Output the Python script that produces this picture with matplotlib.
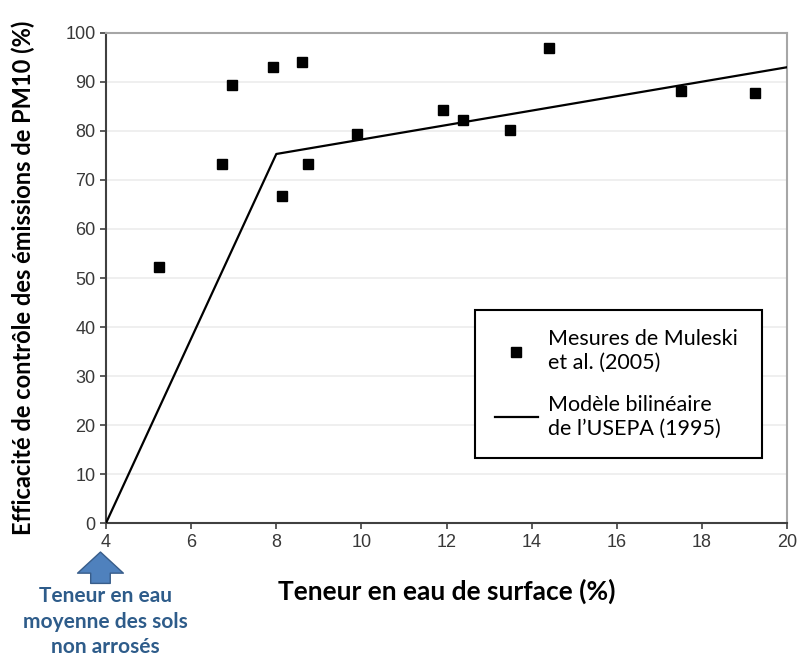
import matplotlib
matplotlib.use("Agg")
import matplotlib.pyplot as plt

# Mesures de Muleski et al. (2005)
teneur_mes = [5.25, 6.73, 6.96, 7.92, 8.14, 8.60, 8.75, 9.90, 11.92, 12.39, 13.50, 14.41, 17.51, 19.25]
effic_mes = [52.3, 73.3, 89.4, 93.1, 66.7, 94.1, 73.3, 79.4, 84.3, 82.2, 80.2, 96.9, 88.2, 87.8]

# Modèle bilinéaire de l'USEPA (1995)
teneur_mod = [4, 8, 20]
effic_mod = [0, 75.3, 93.0]

xticks = [4, 6, 8, 10, 12, 14, 16, 18, 20]
yticks = [0, 10, 20, 30, 40, 50, 60, 70, 80, 90, 100]

fig = plt.figure(figsize=(8, 6.58), dpi=100)
ax = fig.add_axes([0.1325, 0.205, 0.8515, 0.745])

ax.plot(teneur_mod, effic_mod, color="black", lw=1.6, zorder=3,
        label="Modèle bilinéaire\nde l\u2019USEPA (1995)")
ax.plot(teneur_mes, effic_mes, ls="none", marker="s", ms=7.5, color="black", zorder=4,
        label="Mesures de Muleski\net al. (2005)")

ax.set_xlim(4, 20)
ax.set_ylim(0, 100)
ax.set_xticks(xticks)
ax.set_yticks(yticks)
ax.tick_params(labelsize=13, colors="#404040", labelcolor="#383838", length=4, width=1.2,
               direction="out", labelfontfamily="Liberation Sans")
ax.grid(True, axis="y", color="#ececec", lw=1.2)
ax.set_axisbelow(True)
for s in ["left", "bottom"]:
    ax.spines[s].set_color("#404040")
    ax.spines[s].set_linewidth(1.5)
for s in ["top", "right"]:
    ax.spines[s].set_color("#a6a6a6")
    ax.spines[s].set_linewidth(1.5)

ax.set_ylabel("Efficacité de contrôle des émissions de PM10 (%)", fontsize=17,
              fontweight="bold", family="Lato", labelpad=22)
ax.set_xlabel("Teneur en eau de surface (%)", fontsize=19, fontweight="bold",
              family="Lato", labelpad=20)

h, l = ax.get_legend_handles_labels()
leg = ax.legend(h[::-1], l[::-1], loc="upper left", bbox_to_anchor=(0.542, 0.435, 0.421, 0.0),
                mode="expand", borderaxespad=0, fancybox=False, framealpha=1, edgecolor="black",
                prop={"family": "Lato", "size": 15.5}, handlelength=2.0, borderpad=0.9,
                labelspacing=1.0, handletextpad=0.5)
leg.get_frame().set_linewidth(1.5)
for t in leg.get_texts():
    t.set_linespacing(1.25)

# flèche et note sous l'axe x
ax.annotate("", xy=(3.87, -5.9), xytext=(3.87, -12.3), xycoords="data", annotation_clip=False,
            arrowprops=dict(arrowstyle="simple,head_length=0.95,head_width=2.06,tail_width=0.88",
                            fc="#4f81bd", ec="#385d8a", lw=1, mutation_scale=16,
                            shrinkA=0, shrinkB=0))
ax.text(3.98, -12.8, "Teneur en eau\nmoyenne des sols\nnon arrosés", ha="center", va="top",
        fontsize=15, fontweight="bold", family="Lato", color="#2e5c8a",
        linespacing=1.36, clip_on=False)

fig.savefig("out.png", dpi=100)
